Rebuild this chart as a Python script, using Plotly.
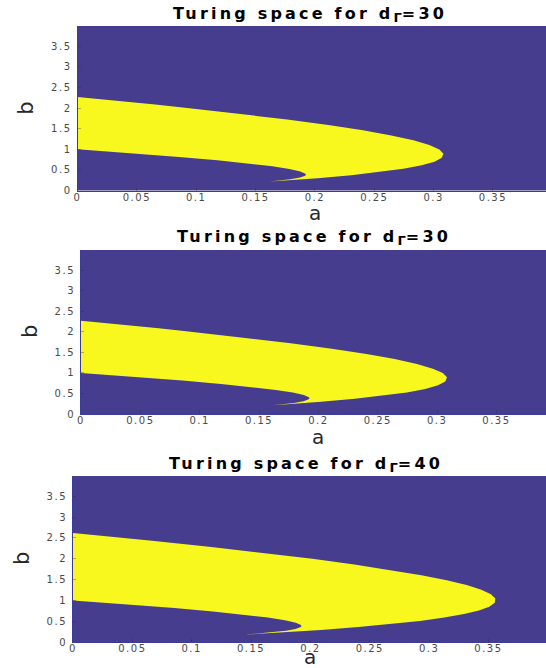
import plotly.graph_objects as go

# ---------------- data ----------------
PANEL_D = [30, 30, 40]  # d_Gamma value of each panel

# Turing region boundaries, d = 30
UPPER_A_30 = [0.1619, 0.1697, 0.1865, 0.2023, 0.2307, 0.2548, 0.2746, 0.2900, 0.3008,
              0.3069, 0.3083, 0.3048, 0.2964, 0.2830, 0.2643, 0.2405, 0.2113, 0.1766,
              0.1364, 0.1141, 0.0905, 0.0654, 0.0389, 0.0109, 0.0]
UPPER_B_30 = [0.2158, 0.2303, 0.2635, 0.2977, 0.3693, 0.4452, 0.5254, 0.6100, 0.6992,
              0.7931, 0.8917, 0.9952, 1.1036, 1.2170, 1.3357, 1.4595, 1.5887, 1.7234,
              1.8636, 1.9359, 2.0095, 2.0846, 2.1611, 2.2391, 2.269]
LOWER_A_30 = [0.1619, 0.168, 0.1794, 0.1875, 0.1918, 0.1925, 0.192, 0.1877, 0.1785,
              0.1641, 0.144, 0.1179, 0.0855, 0.0463, 0.0]
LOWER_B_30 = [0.2158, 0.232, 0.2706, 0.3125, 0.3582, 0.3846, 0.408, 0.4623, 0.5215,
              0.5859, 0.656, 0.7321, 0.8145, 0.9037, 1.0]

# Turing region boundaries, d = 40
UPPER_A_40 = [0.1451, 0.1551, 0.1739, 0.2089, 0.2404, 0.2682, 0.2924, 0.3128, 0.3294,
              0.3420, 0.3507, 0.3553, 0.3558, 0.3521, 0.3440, 0.3316, 0.3148, 0.2935,
              0.2675, 0.2370, 0.2016, 0.1615, 0.1165, 0.0665, 0.0396, 0.0115, 0.0]
UPPER_B_40 = [0.1792, 0.1949, 0.2261, 0.2911, 0.3596, 0.4318, 0.5076, 0.5872, 0.6706,
              0.7580, 0.8493, 0.9447, 1.0442, 1.1479, 1.2560, 1.3684, 1.4852, 1.6065,
              1.7325, 1.8630, 1.9984, 2.1385, 2.2835, 2.4335, 2.5104, 2.5885, 2.6197]
LOWER_A_40 = [0.1451, 0.1536, 0.168, 0.1794, 0.1875, 0.1918, 0.1925, 0.192, 0.1877,
              0.1785, 0.1641, 0.144, 0.1179, 0.0855, 0.0463, 0.0]
LOWER_B_40 = [0.1792, 0.1964, 0.232, 0.2706, 0.3125, 0.3582, 0.3846, 0.408, 0.4623,
              0.5215, 0.5859, 0.656, 0.7321, 0.8145, 0.9037, 1.0]

X_TICKS = [0, 0.05, 0.1, 0.15, 0.2, 0.25, 0.3, 0.35]
X_TICK_LABELS = ["0", "0.05", "0.1", "0.15", "0.2", "0.25", "0.3", "0.35"]
Y_TICKS = [0, 0.5, 1, 1.5, 2, 2.5, 3, 3.5]
Y_TICK_LABELS = ["0", "0.5", "1", "1.5", "2", "2.5", "3", "3.5"]
Y_MAX = 3.99
X_FULL = 0.4

# ---------------- styling / layout ----------------
W, H = 546, 668
PURPLE = "#473D8F"
YELLOW = "#F8F81F"
FONT = "DejaVu Sans"
PX_PER_A = 1187.0          # pixels per unit of a
# (left edge px, top px, bottom px, x-label offset px) of each panel
PANELS = [(77.5, 26, 190.5, 22.5), (81, 250, 414, 22.5), (73, 476, 642, None)]

boundaries = {
    30: (UPPER_A_30, UPPER_B_30, LOWER_A_30, LOWER_B_30),
    40: (UPPER_A_40, UPPER_B_40, LOWER_A_40, LOWER_B_40),
}


def spaced(txt, ls):
    return f'<span style="letter-spacing:{ls}px">{txt}</span>'


fig = go.Figure()
annotations = []
layout_axes = {}

for i, (d, (x0, top, bot, xl_off)) in enumerate(zip(PANEL_D, PANELS)):
    n = "" if i == 0 else str(i + 1)
    ua, ub, la, lb = boundaries[d]
    fig.add_trace(go.Scatter(
        x=ua + la[::-1], y=ub + lb[::-1],
        mode="lines", fill="toself", fillcolor=YELLOW,
        line=dict(width=0, color=YELLOW),
        hoverinfo="skip", showlegend=False,
        xaxis="x" + n, yaxis="y" + n,
    ))
    xr = (W - x0) / PX_PER_A
    layout_axes["xaxis" + n] = dict(
        domain=[x0 / W, 1], range=[0, xr], anchor="y" + n,
        tickmode="array", tickvals=X_TICKS,
        ticktext=[spaced(t, 1.5) for t in X_TICK_LABELS],
        tickfont=dict(family=FONT, size=10, color="#4a4a4a"),
        ticks="inside", ticklen=3, tickcolor="rgba(40,40,40,0.35)",
        ticklabelstandoff=-3,
        showgrid=False, zeroline=False, showline=True,
        linecolor="#3B3B9E", linewidth=1, automargin=False,
    )
    layout_axes["yaxis" + n] = dict(
        domain=[1 - bot / H, 1 - top / H], range=[0, Y_MAX], anchor="x" + n,
        tickmode="array", tickvals=Y_TICKS,
        ticktext=[spaced(t, 1.5) for t in Y_TICK_LABELS],
        tickfont=dict(family=FONT, size=10, color="#4a4a4a"),
        ticks="inside", ticklen=3, tickcolor="rgba(40,40,40,0.35)",
        ticklabelstandoff=3,
        showgrid=False, zeroline=False, showline=True,
        linecolor="#3B3B9E", linewidth=1, automargin=False,
    )
    xc = X_FULL / 2
    # title
    annotations.append(dict(
        xref="x" + n, yref="paper", x=xc - 0.004, y=1 - (top - 12) / H,
        text=spaced("Turing space for d", 3.2)
        + '<sub><span style="font-size:13px">Γ</span></sub>'
        + spaced(f"={d}", 3.2),
        showarrow=False, xanchor="center", yanchor="middle",
        font=dict(family=FONT, size=16, color="#000000", weight="bold"),
    ))
    # x label
    if xl_off is not None:
        annotations.append(dict(
            xref="x" + n, yref="paper", x=xc, y=1 - (bot + xl_off) / H,
            text="a", showarrow=False, xanchor="center", yanchor="middle",
            borderpad=0,
            font=dict(family=FONT, size=20, color="#262626"),
        ))
    else:
        annotations.append(dict(
            xref="x" + n, yref="paper", x=xc, y=0, yshift=-2,
            text="a", showarrow=False, xanchor="center", yanchor="bottom",
            borderpad=0,
            font=dict(family=FONT, size=20, color="#262626"),
        ))
    # y label
    annotations.append(dict(
        xref="paper", yref="paper", x=(x0 - 51) / W, y=1 - ((top + bot) / 2) / H,
        text="b", showarrow=False, xanchor="center", yanchor="middle", textangle=-90,
        borderpad=0,
        font=dict(family=FONT, size=21, color="#262626"),
    ))

fig.update_layout(
    width=W, height=H,
    margin=dict(l=0, r=0, t=0, b=0),
    paper_bgcolor="white", plot_bgcolor=PURPLE,
    showlegend=False,
    annotations=annotations,
    **layout_axes,
)

fig.write_html(
    "out.html",
    config={"displayModeBar": False},
    post_script="document.body.style.margin='0';document.body.style.overflow='hidden';",
)
